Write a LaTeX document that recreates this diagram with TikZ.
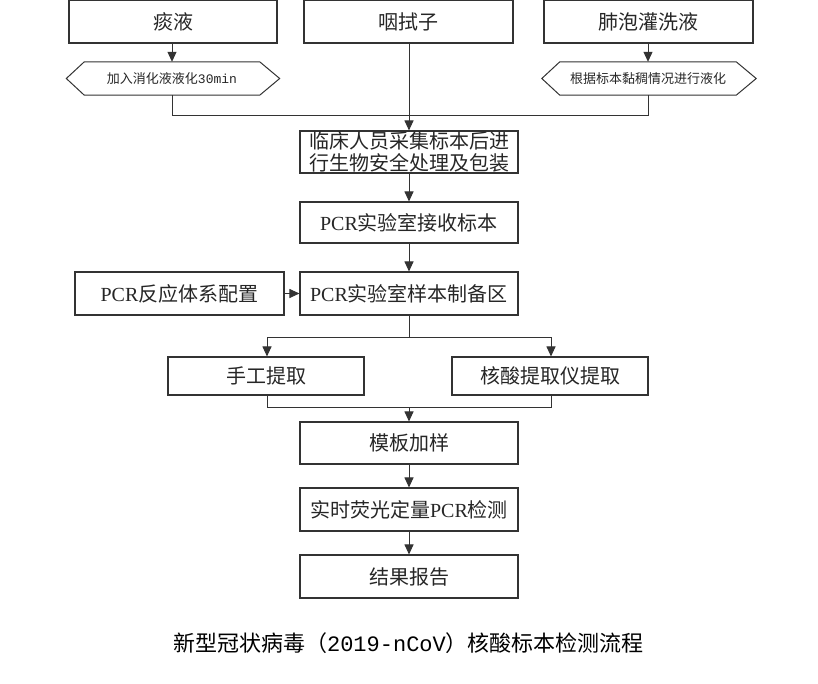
\documentclass[tikz,border=0pt]{standalone}
\usepackage{fontspec}
\setmainfont{Liberation Serif}
\newfontfamily\zh{Noto Sans CJK SC}
\newfontfamily\lat{Liberation Serif}
\newfontfamily\mono{Liberation Mono}
\usetikzlibrary{arrows.meta,positioning}
\begin{document}
\begin{tikzpicture}[x=1pt,y=-1pt,
  ln/.style={draw=black!80,line width=1pt},
  arr/.style={ln,-{Triangle[width=9pt,length=10pt]}},
  box/.style={draw=black!80,line width=1.1pt,rectangle,inner sep=0pt,
    minimum width=218pt,minimum height=42pt,align=center,
    font=\zh\fontsize{20}{22}\selectfont,text=black!85},
  hexlab/.style={inner sep=0pt,minimum height=33pt,
    font=\zh\fontsize{13}{15}\selectfont,text=black!85}]
\useasboundingbox (0,0) rectangle (818,683);
% top sources
\node[box,minimum width=208pt,minimum height=42.5pt] (t1) at (173,21.75) {痰液};
\node[box,minimum width=209pt,minimum height=42.5pt] (t2) at (408.5,21.75) {咽拭子};
\node[box,minimum width=209pt,minimum height=42.5pt] (t3) at (648.5,21.75) {肺泡灌洗液};
% hexagons
\node[hexlab,minimum width=175pt] (h1) at (172,78.5) {加入消化液液化{\mono 30min}};
\node[hexlab,minimum width=176pt] (h2) at (648,78.5) {根据标本黏稠情况进行液化};
\draw[draw=black!80,line width=1pt] ([xshift=-18pt]h1.west) -- (h1.north west) -- (h1.north east)
  -- ([xshift=20pt]h1.east) -- (h1.south east) -- (h1.south west) -- cycle;
\draw[draw=black!80,line width=1pt] ([xshift=-18pt]h2.west) -- (h2.north west) -- (h2.north east)
  -- ([xshift=20pt]h2.east) -- (h2.south east) -- (h2.south west) -- cycle;
% main column
\node[box] (c1) at (409,152) {临床人员采集标本后进\\行生物安全处理及包装};
\node[box,minimum height=41pt] (c2) at (409,222.5) {{\lat PCR}实验室接收标本};
\node[box,minimum height=43pt] (c3) at (409,293.5) {{\lat PCR}实验室样本制备区};
\node[box,minimum width=209pt,minimum height=43pt] (p) at (179.5,293.5) {{\lat PCR}反应体系配置};
\node[box,minimum width=196pt,minimum height=38pt] (m1) at (266,376) {手工提取};
\node[box,minimum width=196pt,minimum height=38pt] (m2) at (550,376) {核酸提取仪提取};
\node[box] (c4) at (409,443) {模板加样};
\node[box,minimum height=43pt] (c5) at (409,509.5) {实时荧光定量{\lat PCR}检测};
\node[box,minimum height=43pt] (c6) at (409,576.5) {结果报告};
% title
\node[font=\zh\fontsize{22}{24}\selectfont,text=black,inner sep=0pt] (title) at (408.5,643)
  {新型冠状病毒（{\mono 2019-nCoV}）核酸标本检测流程};
% connectors
\coordinate (j1) at (172,115.5);
\coordinate (j2) at (648,115.5);
\draw[arr] (t1.south -| h1.north) -- (h1.north);
\draw[arr] (t3.south -| h2.north) -- (h2.north);
\draw[ln] (h1.south) -- (j1) -- (j2) -- (h2.south);
\draw[arr] (t2.south -| c1.north) -- (c1.north);
\draw[arr] (c1) -- (c2);
\draw[arr] (c2) -- (c3);
\draw[arr] (p) -- (c3);
\coordinate (s0) at (409,337);
\coordinate (s1) at (267,337);
\coordinate (s2) at (551,337);
\draw[ln] (c3.south) -- (s0);
\draw[ln] (s1) -- (s2);
\draw[arr] (s1) -- (s1 |- m1.north);
\draw[arr] (s2) -- (s2 |- m2.north);
\coordinate (k1) at (267,407);
\coordinate (k2) at (551,407);
\coordinate (k0) at (409,407);
\draw[ln] (k1 |- m1.south) -- (k1) -- (k2) -- (k2 |- m2.south);
\draw[arr] (k0) -- (c4.north);
\draw[arr] (c4) -- (c5);
\draw[arr] (c5) -- (c6);
\end{tikzpicture}
\end{document}
